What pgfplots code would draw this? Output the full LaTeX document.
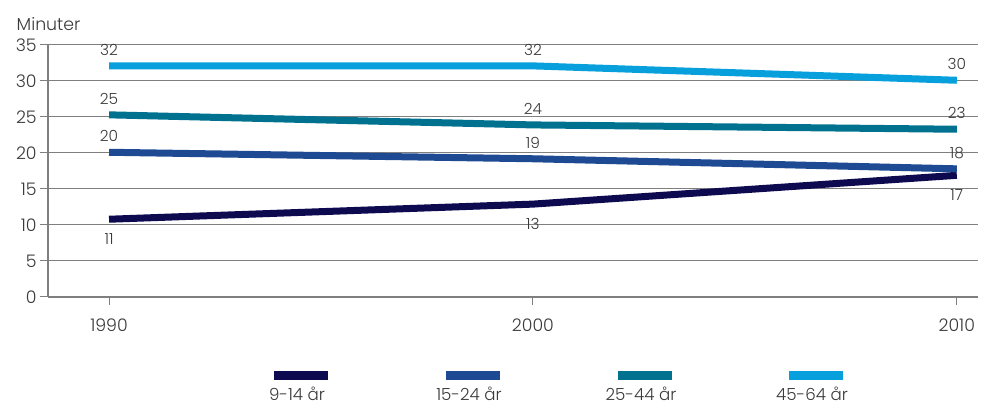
\documentclass[border=0pt]{standalone}
\usepackage{pgfplots}
\pgfplotsset{compat=1.18}
\usepackage{fontspec}
\setmainfont{Poppins}[UprightFont={* Light}]
\definecolor{cA}{HTML}{0E0A50}
\definecolor{cB}{HTML}{1D4A92}
\definecolor{cC}{HTML}{00718F}
\definecolor{cD}{HTML}{079FDC}
\definecolor{txt}{HTML}{3A3A3A}
\definecolor{grid}{HTML}{7F7F7F}
\begin{document}
\begin{tikzpicture}
\path[use as bounding box] (-36pt,-81.75pt) rectangle (718.5pt,222.75pt);
\begin{axis}[
  at={(0,0)}, anchor=south west,
  scale only axis, width=697.5pt, height=189pt,
  xmin=1988.56, xmax=2010.5, ymin=0, ymax=35,
  xtick={1990,2000,2010}, ytick={0,5,...,35},
  axis x line*=bottom, axis y line*=left,
  axis line style={-, draw=grid, line width=1pt},
  ymajorgrids, grid style={draw=grid, line width=0.75pt},
  tick align=outside, major tick length=6pt,
  tick style={draw=grid, line width=0.75pt},
  /pgf/number format/assume math mode=true,
  /pgf/number format/1000 sep={},
  ticklabel style={font=\fontsize{13}{15}\selectfont, text=txt},
  yticklabel style={xshift=1pt},
  xticklabel style={yshift=-7pt},
  clip=false,
  every axis plot/.append style={line width=5.25pt, line cap=butt, line join=round},
  point meta=explicit symbolic,
  nodes near coords,
  every node near coord/.append style={font=\fontsize{11.5}{13}\selectfont, text=txt, anchor=center},
]
\addplot[cA, nodes near coords style={yshift=-15pt}] coordinates {(1990,10.8) [11] (2000,12.9) [13] (2010,16.9) [17]};
\addplot[cB, nodes near coords style={yshift=12pt}] coordinates {(1990,20.1) [20] (2000,19.2) [19] (2010,17.8) [18]};
\addplot[cC, nodes near coords style={yshift=12pt}] coordinates {(1990,25.3) [25] (2000,23.9) [24] (2010,23.3) [23]};
\addplot[cD, nodes near coords style={yshift=12pt}] coordinates {(1990,32.1) [32] (2000,32.1) [32] (2010,30.1) [30]};
\node[anchor=west, text=txt, font=\fontsize{13}{15}\selectfont] at ([xshift=-27pt,yshift=16pt]rel axis cs:0,1) {Minuter};
\end{axis}
% legend
\foreach \c/\t/\x in {cA/9-14 år/189.75, cB/15-24 år/318.75, cC/25-44 år/447.75, cD/45-64 år/576} {
  \fill[\c] (\x pt-20.25pt,-62.5pt) rectangle (\x pt+20.25pt,-55.75pt);
  \node[text=txt, font=\fontsize{12.5}{14}\selectfont, anchor=center, inner sep=1pt] at (\x pt-3pt,-72.5pt) {\t};
}
\end{tikzpicture}
\end{document}
